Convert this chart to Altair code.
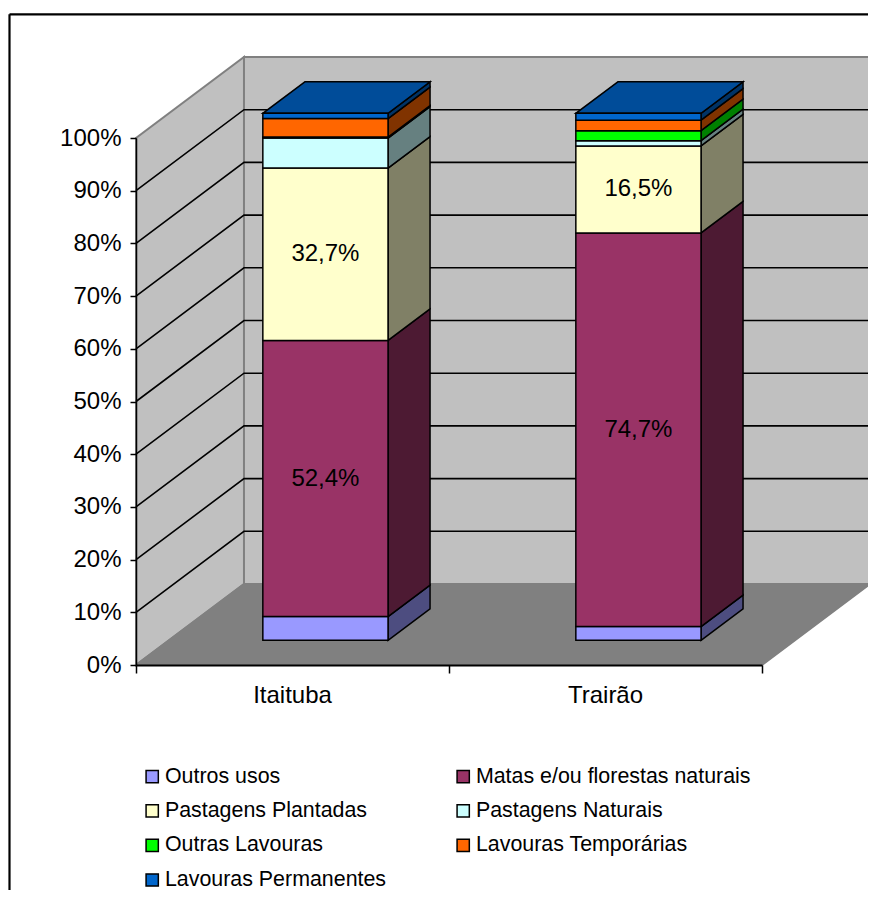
import altair as alt
import pandas as pd

categories = ["Itaituba", "Trairão"]
series = ["Outros usos", "Matas e/ou florestas naturais", "Pastagens Plantadas",
          "Pastagens Naturais", "Outras Lavouras", "Lavouras Temporárias", "Lavouras Permanentes"]
itaituba = [4.5, 52.4, 32.7, 5.7, 0.2, 3.5, 1.0]
trairao = [2.6, 74.7, 16.5, 1.0, 1.9, 2.0, 1.3]
front_colors = ["#9999FF", "#993366", "#FFFFCC", "#CCFFFF", "#00FF00", "#FF6600", "#0066CC"]
side_colors = ["#4D4D80", "#4D1A33", "#808066", "#668080", "#008000", "#803300", "#003366"]
top_color = "#004C99"
labelled = {"Matas e/ou florestas naturais", "Pastagens Plantadas"}

# oblique projection of the depth axis, in data units
DX, DY = 0.345, 15.37
D0, D1 = 0.305, 0.694
BAR = 0.4
FONT = "Liberation Sans"

xs = alt.Scale(domain=[0, 2], nice=False, zero=False)
ys = alt.Scale(domain=[0, 100], nice=False, zero=False)
X = lambda f="x": alt.X(f"{f}:Q", scale=xs, axis=None)
Y = lambda f="y": alt.Y(f"{f}:Q", scale=ys, axis=None, stack=None)
ticks = list(range(10, 101, 10))

# axes come first so that the shared scales carry them
layers = [
    alt.Chart(pd.DataFrame({"x": [0], "y": [0]})).mark_point(opacity=0).encode(
        x=alt.X("x:Q", scale=xs, title=None, axis=alt.Axis(
            values=[0, 1, 2], labels=False, tickSize=8, tickColor="black", tickWidth=1.5,
            domainColor="black", domainWidth=2, grid=False, zindex=1)),
        y=alt.Y("y:Q", scale=ys, title=None, axis=alt.Axis(
            values=[0] + ticks, tickSize=6, tickColor="black", tickWidth=1.5, domainColor="black",
            domainWidth=1.5, grid=False, labelExpr="datum.value + '%'", labelFont=FONT,
            labelFontSize=24, labelColor="black", labelPadding=9, zindex=1)),
    )
]

# walls and floor
left_wall = pd.DataFrame({"x": [0, DX], "y": [0, DY], "y2": [100, 100 + DY]})
back_wall = pd.DataFrame({"x": [DX, 2 + DX], "y": [DY, DY], "y2": [100 + DY, 100 + DY]})
floor = pd.DataFrame({"y": [0, DY], "x": [0, DX], "x2": [2, 2 + DX]})
wall_style = dict(stroke="#808080", strokeWidth=2, opacity=1)
layers += [
    alt.Chart(left_wall).mark_area(color="#C0C0C0", **wall_style).encode(x=X(), y=Y(), y2="y2:Q"),
    alt.Chart(back_wall).mark_area(color="#C0C0C0", **wall_style).encode(x=X(), y=Y(), y2="y2:Q"),
    alt.Chart(floor).mark_area(color="#808080", orient="horizontal", **wall_style).encode(
        y=Y(), x=X(), x2="x2:Q"),
]

# gridlines
grid = []
for t in ticks:
    if t < 100:
        grid += [dict(t=t, x=0, y=t), dict(t=t, x=DX, y=t + DY), dict(t=t, x=2 + DX, y=t + DY)]
layers.append(alt.Chart(pd.DataFrame(grid)).mark_line(color="black", strokeWidth=1.6).encode(
    x=X(), y=Y(), detail="t:N"))

stroke = dict(stroke="black", strokeWidth=1.5)
legend = alt.Legend(
    orient="none", legendX=5.5, legendY=627.5, columns=2, direction="horizontal", title=None,
    symbolType="square", symbolSize=150, symbolStrokeColor="black", symbolStrokeWidth=1.5,
    labelFont=FONT, labelFontSize=21.4, labelColor="black", rowPadding=11.6, columnPadding=12,
    labelLimit=400, labelOffset=2, gridAlign="all", padding=0)

# bars
labels = []
for ci, (cat, vals) in enumerate(zip(categories, [itaituba, trairao])):
    base = 0.0
    left = ci + 0.5 - BAR / 2
    right = ci + 0.5 + BAR / 2
    fronts = []
    for s, v, sc in zip(series, vals, side_colors):
        top = base + v
        fronts.append(dict(series=s, x=left + D0 * DX, x2=right + D0 * DX,
                           y=base + D0 * DY, y2=top + D0 * DY))
        side = pd.DataFrame([dict(x=right + d * DX, y=base + d * DY, y2=top + d * DY) for d in (D0, D1)])
        layers.append(alt.Chart(side).mark_area(color=sc, opacity=1, **stroke).encode(
            x=X(), y=Y(), y2="y2:Q"))
        if s in labelled:
            labels.append(dict(x=(left + right) / 2 + D0 * DX, y=(base + top) / 2 + D0 * DY,
                               txt=f"{v:.1f}%".replace(".", ",")))
        base = top
    roof = pd.DataFrame([dict(x=left + d * DX, x2=right + d * DX, y=base + d * DY) for d in (D0, D1)])
    layers.append(alt.Chart(roof).mark_area(orient="horizontal", color=top_color, opacity=1, **stroke).encode(
        y=Y(), x=X(), x2="x2:Q"))
    layers.append(alt.Chart(pd.DataFrame(fronts)).mark_rect(**stroke).encode(
        x=X(), x2="x2:Q", y=Y(), y2="y2:Q",
        fill=alt.Fill("series:N", scale=alt.Scale(domain=series, range=front_colors),
                      sort=series, legend=legend)))

layers.append(alt.Chart(pd.DataFrame(labels)).mark_text(font=FONT, fontSize=24, color="black").encode(
    x=X(), y=Y(), text="txt:N"))

cat_labels = pd.DataFrame({"x": [0.5, 1.5], "y": [0, 0], "txt": categories})
layers.append(alt.Chart(cat_labels).mark_text(font=FONT, fontSize=24, color="black", dy=31).encode(
    x=X(), y=Y(), text="txt:N"))

# outer frame of the picture
layers.append(alt.Chart(pd.DataFrame({"a": [0]})).mark_rule(color="black", strokeWidth=2.2).encode(
    x=alt.value(-126.5), y=alt.value(-123.7), y2=alt.value(752)))
layers.append(alt.Chart(pd.DataFrame({"a": [0]})).mark_rule(color="black", strokeWidth=2.2).encode(
    x=alt.value(-126.5), x2=alt.value(732), y=alt.value(-123.7)))

chart = alt.layer(*layers).properties(
    width=626, height=527, autosize=alt.AutoSizeParams(type="none"),
    padding={"left": 128, "right": 106, "top": 130, "bottom": 225},
).resolve_axis(x="independent", y="independent").configure_view(stroke=None)

chart.save("out.html", embed_options={"renderer": "svg", "actions": False})
